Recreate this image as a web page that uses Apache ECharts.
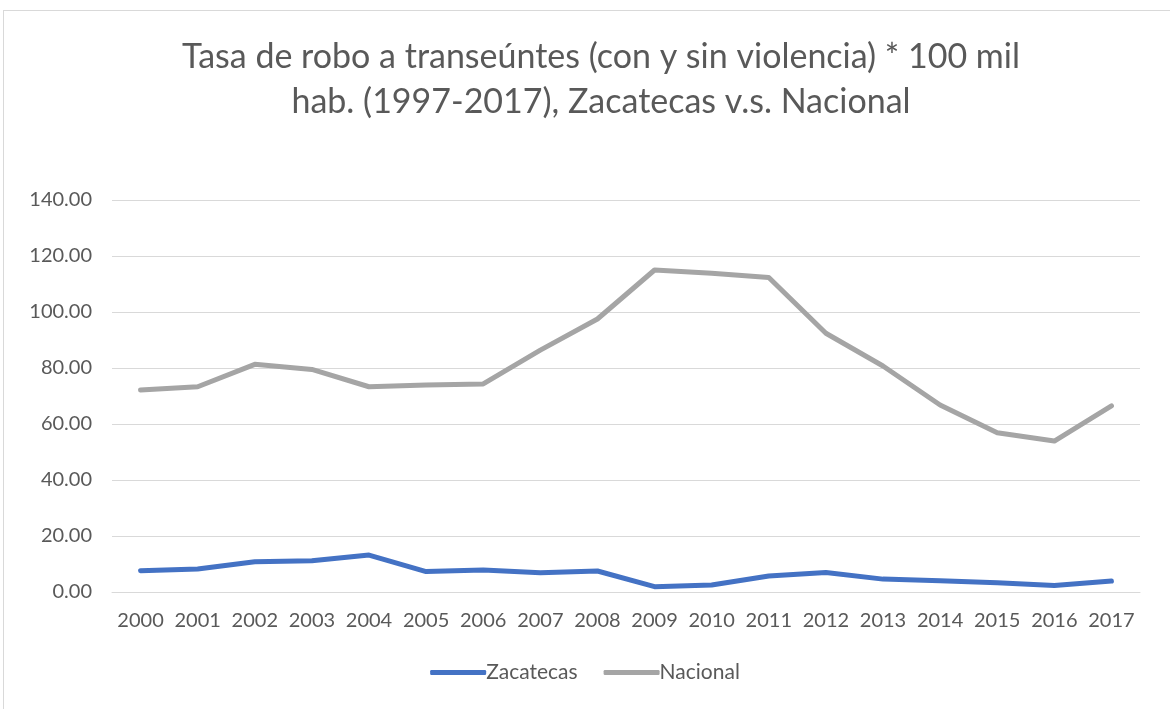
<!DOCTYPE html>
<html>
<head>
<meta charset="utf-8">
<script src="https://cdn.jsdelivr.net/npm/echarts@6/dist/echarts.min.js"></script>
<style>
  html, body { margin: 0; padding: 0; background: #fff; }
  #frame { position: absolute; left: 3px; top: 10px; width: 1170px; height: 720px; border: 1px solid #d9d9d9; box-sizing: border-box; }
  #main { position: absolute; left: 0; top: 0; width: 1170px; height: 709px; }
</style>
</head>
<body>
<div id="frame"></div>
<div id="main"></div>
<script>
// datos
var years = ['2000', '2001', '2002', '2003', '2004', '2005', '2006', '2007', '2008',
             '2009', '2010', '2011', '2012', '2013', '2014', '2015', '2016', '2017'];
var zacatecas = [7.6, 8.2, 10.8, 11.2, 13.2, 7.3, 7.9, 6.9, 7.5,
                 1.9, 2.5, 5.7, 7.0, 4.6, 4.0, 3.3, 2.3, 3.9];
var nacional = [72.1, 73.3, 81.3, 79.5, 73.3, 73.9, 74.3, 86.4, 97.5,
                115.0, 113.8, 112.3, 92.4, 80.7, 66.8, 56.9, 53.9, 66.5];

var chartDom = document.getElementById('main');
var myChart = echarts.init(chartDom);
var option;
var fontFam = 'Lato, "Open Sans", sans-serif';

option = {
    animation: false,
    textStyle: { fontFamily: fontFam, color: '#595959' },
    title: {
        text: 'Tasa de robo a transeúntes (con y sin violencia) * 100 mil\nhab. (1997-2017), Zacatecas v.s. Nacional',
        left: 596,
        top: 30,
        textAlign: 'center',
        textStyle: { fontFamily: fontFam, fontSize: 34, fontWeight: 'normal', color: '#595959', lineHeight: 45 }
    },
    legend: {
        bottom: 21,
        left: 'center',
        itemWidth: 56,
        itemHeight: 5,
        itemGap: 26,
        icon: 'roundRect',
        textStyle: { fontFamily: fontFam, fontSize: 21, color: '#595959', padding: [0, 0, 0, -5] },
        data: ['Zacatecas', 'Nacional']
    },
    grid: { left: 112, right: 30, top: 200, bottom: 117 },
    xAxis: {
        type: 'category',
        data: years,
        boundaryGap: true,
        axisLine: { show: true, lineStyle: { color: '#d9d9d9', width: 1 } },
        axisTick: { show: false },
        axisLabel: { interval: 0, fontSize: 20, color: '#595959', margin: 19 }
    },
    yAxis: {
        type: 'value',
        min: 0,
        max: 140,
        interval: 20,
        axisLine: { show: false },
        axisTick: { show: false },
        axisLabel: {
            fontSize: 20, color: '#595959', margin: 20,
            formatter: function (v) { return v.toFixed(2); }
        },
        splitLine: { lineStyle: { color: '#d9d9d9', width: 1 } }
    },
    series: [
        {
            name: 'Zacatecas',
            type: 'line',
            data: zacatecas,
            showSymbol: false,
            symbol: 'none',
            lineStyle: { color: '#4472C4', width: 5, cap: 'round', join: 'round' },
            itemStyle: { color: '#4472C4' }
        },
        {
            name: 'Nacional',
            type: 'line',
            data: nacional,
            showSymbol: false,
            symbol: 'none',
            lineStyle: { color: '#A5A5A5', width: 5, cap: 'round', join: 'round' },
            itemStyle: { color: '#A5A5A5' }
        }
    ]
};

option && myChart.setOption(option);
</script>
</body>
</html>
